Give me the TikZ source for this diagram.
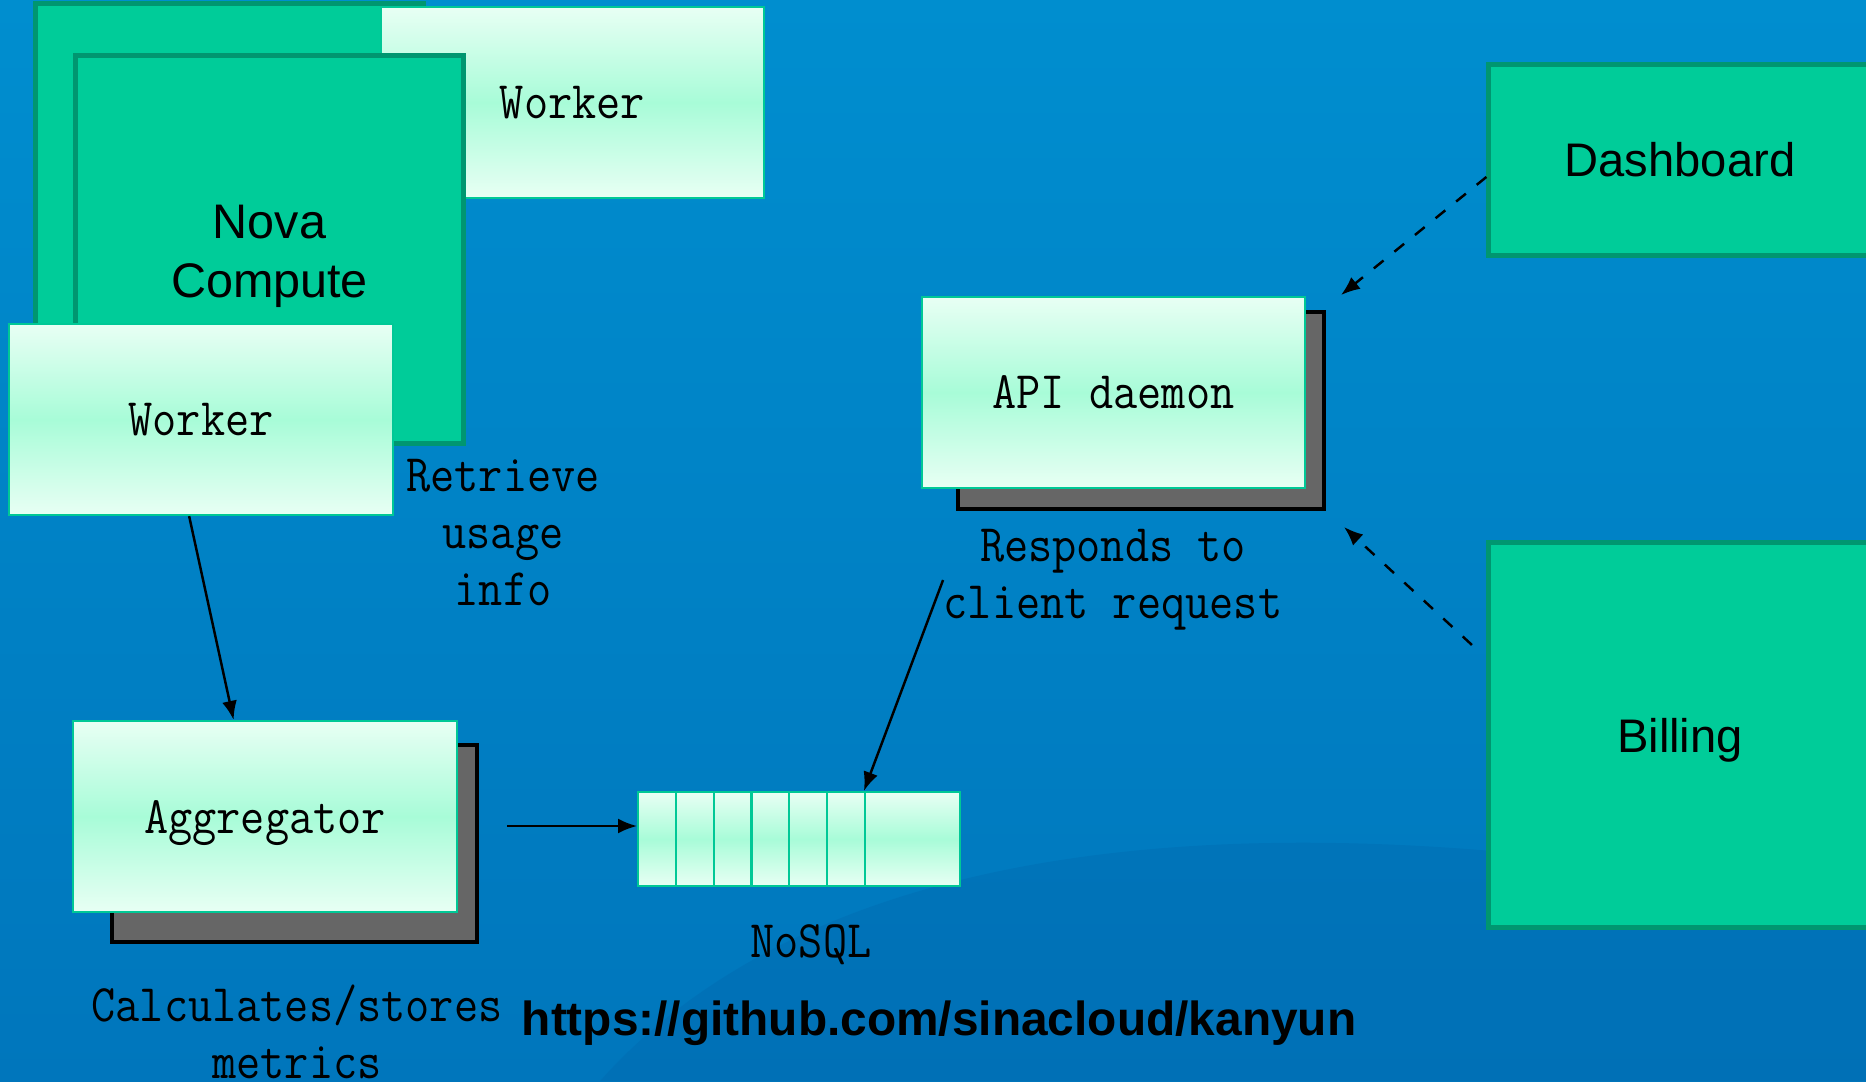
\documentclass[tikz,border=0pt]{standalone}
\usepackage{fontspec}
\setmainfont{Liberation Sans}
\newfontfamily\condfont[FakeStretch=0.89]{Latin Modern Mono}
\usetikzlibrary{arrows.meta}
\definecolor{bgtop}{RGB}{0,142,207}
\definecolor{bgbot}{RGB}{0,118,188}
\definecolor{bgdark}{RGB}{0,100,170}
\definecolor{boxgreen}{RGB}{0,204,153}
\definecolor{darkgreen}{RGB}{0,150,112}
\definecolor{mint}{RGB}{168,252,216}
\definecolor{pale}{RGB}{232,255,244}
\definecolor{edge}{RGB}{0,200,150}
\definecolor{shadowgray}{RGB}{102,102,102}
\begin{document}
\begin{tikzpicture}[x=0.01cm, y=-0.01cm,
                  >={Latex[length=1.9mm,width=1.5mm]},
                  greenbox/.style={draw=darkgreen, line width=1.4pt, fill=boxgreen, inner sep=0pt,
                                   align=center, font=\fontsize{13.4pt}{16pt}\selectfont},
                  lightbox/.style={draw=edge, line width=0.6pt, top color=pale, bottom color=pale,
                                   middle color=mint, inner sep=0pt,
                                   font=\condfont\fontsize{15pt}{16.2pt}\selectfont},
                  shadowbox/.style={draw=black, line width=1.1pt, fill=shadowgray},
                  cell/.style={draw=edge, line width=0.6pt, top color=pale, bottom color=pale,
                               middle color=mint, minimum height=0.94cm, inner sep=0pt},
                  note/.style={inner sep=0pt, align=center,
                               font=\condfont\fontsize{15pt}{16.2pt}\selectfont},
                  fleche/.style={->, line width=0.7pt},
                  tirets/.style={->, line width=0.7pt, dash pattern=on 1.25mm off 1.4mm}]
\useasboundingbox (0,0) rectangle (1866,1081);
\clip (0,0) rectangle (1866,1081);
% background
\shade[top color=bgtop, bottom color=bgbot] (0,0) rectangle (1866,1081);
\fill[bgdark, opacity=0.3] (600,1081) .. controls (780,880) and (1100,820) .. (1480,850)
   -- (1866,880) -- (1866,1081) -- cycle;
% compute node
\node[greenbox, minimum width=3.87cm, minimum height=3.87cm] (novaback) at (229.5,197.5) {};
\node[lightbox, minimum width=3.83cm, minimum height=1.91cm] (workertop) at (572.5,102.5) {Worker};
\node[greenbox, minimum width=3.87cm, minimum height=3.87cm] (novafront) at (269.5,249.5) {};
\node[align=center, font=\fontsize{13.8pt}{16.8pt}\selectfont] (novatext)
   at ([yshift=-0.07cm]novafront.center) {Nova\\Compute};
\node[lightbox, minimum width=3.84cm, minimum height=1.91cm] (workerbot) at (201,419.5) {Worker};
\node[note] (retrieve) at (503,533) {Retrieve\\usage\\info};
% aggregator
\node[shadowbox, minimum width=3.65cm, minimum height=1.97cm] (aggshadow) at (294.5,843.5) {};
\node[lightbox, text depth=0pt, minimum width=3.84cm, minimum height=1.91cm] (agg) at (265,816.5) {Aggregator};
\node[note] (calc) at (297,1032) {Calculates/stores\\metrics};
% storage
\foreach \i in {0,...,5}
   \node[cell, minimum width=0.378cm] (c\i) at (657+37.8*\i,839) {};
\node[cell, minimum width=0.95cm] (c6) at (912.5,839) {};
\node[note] (nosql) at (811,945) {NoSQL};
% api
\node[shadowbox, minimum width=3.66cm, minimum height=1.97cm] (apishadow) at (1141,410.5) {};
\node[lightbox, minimum width=3.83cm, minimum height=1.91cm] (api) at (1113.5,392.5) {API daemon};
\node[note] (resp) at (1113,580) {Responds to\\client request};
% clients
\node[greenbox, minimum width=3.82cm, minimum height=1.9cm] (dashboard) at (1680,160) {Dashboard};
\node[greenbox, minimum width=3.83cm, minimum height=3.84cm] (billing) at (1680,735) {};
\node[font=\fontsize{13.4pt}{16pt}\selectfont] (billtext) at ([yshift=-0.05cm]billing.center) {Billing};
\node[font=\bfseries\fontsize{13.6pt}{16pt}\selectfont] (url) at (939,1023)
   {https://github.com/sinacloud/kanyun};
% connectors
\draw[fleche] (workerbot.-97) -- (agg.108);
\coordinate (aggout) at (507,826);
\draw[fleche] (aggout) -- (aggout -| c0.west);
\draw[fleche] (resp.west) -- (c6.north west);
\draw[tirets] (dashboard.-175) -- ([shift={(0.15cm,0.15cm)}]apishadow.north east);
\draw[tirets] ([shift={(-0.14cm,0.9cm)}]billing.west) -- ([shift={(0.18cm,-0.16cm)}]apishadow.south east);
\end{tikzpicture}
\end{document}
